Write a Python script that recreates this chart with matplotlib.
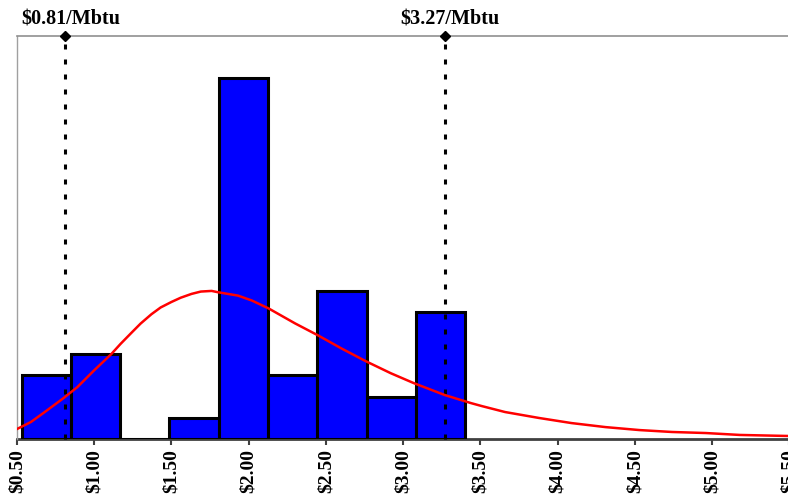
import matplotlib
matplotlib.use("Agg")
import matplotlib.pyplot as plt
import numpy as np

# Histogram of prices ($/Mbtu): bin edges and counts
bin_start = 0.53
bin_width = 0.319
counts = [3, 4, 0, 1, 17, 3, 7, 2, 6]

# Fitted distribution curve, scaled to counts
curve_x = [0.50, 0.59, 0.67, 0.80, 0.89, 1.00, 1.11, 1.17, 1.24, 1.30, 1.37, 1.43,
           1.50, 1.56, 1.63, 1.69, 1.76, 1.80, 1.93, 2.02, 2.13, 2.30, 2.45, 2.60,
           2.76, 2.92, 3.07, 3.27, 3.44, 3.51, 3.66, 3.88, 4.09, 4.31, 4.53, 4.74,
           4.96, 5.18, 5.50]
curve_y = [0.47, 0.80, 1.22, 1.92, 2.44, 3.24, 4.00, 4.48, 5.00, 5.44, 5.88, 6.20,
           6.46, 6.66, 6.84, 6.95, 6.98, 6.92, 6.76, 6.53, 6.15, 5.45, 4.88, 4.27,
           3.66, 3.10, 2.63, 2.07, 1.69, 1.55, 1.27, 0.99, 0.75, 0.56, 0.42, 0.33,
           0.28, 0.19, 0.14]

# Marker lines and their labels
marker_values = [0.81, 3.27]
marker_labels = ["$0.81/Mbtu", "$3.27/Mbtu"]

# Axis ticks
tick_values = [0.5, 1.0, 1.5, 2.0, 2.5, 3.0, 3.5, 4.0, 4.5, 5.0, 5.5]
tick_labels = ["$0.50", "$1.00", "$1.50", "$2.00", "$2.50", "$3.00",
               "$3.50", "$4.00", "$4.50", "$5.00", "$5.50"]

serif = ["Liberation Serif", "DejaVu Serif"]

fig = plt.figure(figsize=(7.88, 5.01), dpi=100)
ax = fig.add_axes([0.0216, 0.1238, 0.98, 0.8044])

left_edges = [bin_start + i * bin_width for i in range(len(counts))]
ax.bar(left_edges, counts, width=bin_width, align="edge", color="#0000FF",
       edgecolor="black", linewidth=2.2, zorder=2)

ax.plot(curve_x, curve_y, color="#FF0000", linewidth=1.8, zorder=4,
        solid_joinstyle="round")

ymax = 19.0
lw = 2.2
for v, lab in zip(marker_values, marker_labels):
    ax.plot([v, v], [0, ymax], color="black", linewidth=lw,
            linestyle=(0, (5 * 0.72 / lw, 10 * 0.72 / lw)),
            dash_capstyle="butt", zorder=3, clip_on=False)
    ax.plot([v], [ymax], marker="D", color="black", markersize=5,
            zorder=5, clip_on=False)
    ax.annotate(lab, xy=(v, ymax), xytext=(4, 5), textcoords="offset points",
                ha="center", va="bottom", fontsize=14.5, fontweight="bold",
                family=serif, color="black", annotation_clip=False)

ax.set_xlim(0.5, 5.5)
ax.set_ylim(0, ymax)
ax.set_yticks([])
ax.set_xticks(tick_values)
ax.set_xticklabels(tick_labels, rotation=90, fontsize=14, fontweight="bold",
                   family=serif, va="top")
ax.tick_params(axis="x", direction="out", length=4, width=1.5,
               color="#404040", pad=3)

ax.spines["left"].set_color("#A0A0A0")
ax.spines["left"].set_linewidth(1.0)
ax.spines["top"].set_color("#909090")
ax.spines["top"].set_linewidth(1.2)
ax.spines["right"].set_color("#909090")
ax.spines["bottom"].set_color("#404040")
ax.spines["bottom"].set_linewidth(2.0)
ax.spines["bottom"].set_zorder(1.5)

fig.savefig("out.png", dpi=100)
